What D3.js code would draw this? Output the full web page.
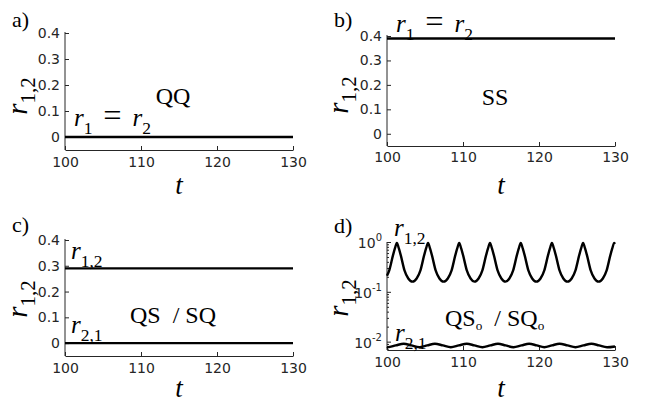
<!DOCTYPE html>
<html><head><meta charset="utf-8">
<script src="https://cdn.jsdelivr.net/npm/d3@7"></script>
<style>body{margin:0;background:#fff}</style>
</head><body><script>
// ---------- data ----------
const xTicks = [100, 110, 120, 130];
const yTicksLin = [0, 0.1, 0.2, 0.3, 0.4];
const yTicksLog = [1, 0.1, 0.01];
const yTickLogLabels = ["0", "-1", "-2"];
const yMinorLog = [0.9,0.8,0.7,0.6,0.5,0.4,0.3,0.2,0.09,0.08,0.07,0.06,0.05,0.04,0.03,0.02,0.009,0.008,0.007];
const tConst = [100, 130];
const rA = [0, 0];          // QQ: r1 = r2
const rB = [0.39, 0.39];    // SS: r1 = r2
const rC12 = [0.29, 0.29];  // QS/SQ upper
const rC21 = [0, 0];        // QS/SQ lower
const tD12 = [100.0,100.3,100.8,101.05,101.3,101.55,101.8,102.3,102.8,103.35,
  103.9,104.4,104.9,105.15,105.4,105.65,105.9,106.4,106.9,107.45,
  108.0,108.5,109.0,109.25,109.5,109.75,110.0,110.5,111.0,111.5,
  112.05,112.55,113.05,113.3,113.55,113.8,114.05,114.55,115.05,115.6,
  116.1,116.6,117.1,117.35,117.6,117.85,118.1,118.6,119.1,119.65,
  120.2,120.7,121.2,121.45,121.7,121.95,122.2,122.7,123.2,123.75,
  124.3,124.8,125.3,125.55,125.8,126.05,126.3,126.8,127.3,127.85,
  128.4,128.9,129.4,129.65,129.9,130.0];
const rD12 = [0.21,0.27,0.55,0.75,0.96,0.75,0.55,0.27,0.185,0.16,
  0.185,0.27,0.55,0.75,0.96,0.75,0.55,0.27,0.185,0.16,
  0.185,0.27,0.55,0.75,0.96,0.75,0.55,0.27,0.185,0.16,
  0.185,0.27,0.55,0.75,0.96,0.75,0.55,0.27,0.185,0.16,
  0.185,0.27,0.55,0.75,0.96,0.75,0.55,0.27,0.185,0.16,
  0.185,0.27,0.55,0.75,0.96,0.75,0.55,0.27,0.185,0.16,
  0.185,0.27,0.55,0.75,0.96,0.75,0.55,0.27,0.185,0.16,
  0.185,0.27,0.55,0.75,0.96,0.92];
const tD21 = [100.0,100.1,101.15,102.2,103.2,104.25,105.3,106.3,107.35,108.4,109.45,110.5,
  111.5,112.55,113.6,114.6,115.6,116.65,117.7,118.7,119.7,120.7,121.7,122.7,123.75,124.8,
  125.85,126.9,127.9,128.95,130.0];
const rD21 = [0.0078,0.0077,0.0084,0.0091,0.0084,0.0077,0.0084,0.0091,0.0084,0.0077,0.0084,0.0091,
  0.0084,0.0077,0.0084,0.0091,0.0084,0.0077,0.0084,0.0091,0.0084,0.0077,0.0084,0.0091,0.0084,0.0077,
  0.0084,0.0091,0.0084,0.0077,0.0080];

// ---------- setup ----------
const W = 647, H = 405;
const svg = d3.select("body").append("svg").attr("width", W).attr("height", H);
const AX = "#262626";
const SERIF = "'Liberation Serif','Times New Roman',serif";
const SANS = "'DejaVu Sans',sans-serif";

function mathText(parent, x, y, parts, size, anchor) {
  const t = parent.append("text").attr("x", x).attr("y", y)
    .attr("font-family", SERIF).attr("font-size", size).attr("fill", "#000")
    .attr("text-anchor", anchor || "start").style("white-space", "pre");
  let shift = 0;
  parts.forEach(p => {
    const want = p.sub ? size * (p.drop || 0.3) : (p.lift ? -size * p.lift : 0);
    const ts = t.append("tspan").text(p.t).attr("dy", want - shift);
    shift = want;
    ts.attr("font-size", p.sub ? size * (p.scale || 0.7) : size * (p.big || 1));
    if (p.i) ts.attr("font-style", "italic");
  });
  return t;
}

function styleAxis(g) {
  g.selectAll("path.domain").attr("stroke", AX).attr("stroke-width", 1);
  g.selectAll(".tick line").attr("stroke", AX);
  g.selectAll(".tick text").attr("fill", AX).attr("font-family", SANS).attr("font-size", 14);
}

const EQ = [{t: "r", i: 1}, {t: "1", sub: 1}, {t: "\u2004=\u2004", big: 1.3, lift: 0.02}, {t: "r", i: 1}, {t: "2", sub: 1}];

function panel(cfg) {
  const g = svg.append("g");
  const x = d3.scaleLinear().domain([100, 130]).range(cfg.xr);
  const y = cfg.log
    ? d3.scaleLog().domain([0.0068, 1]).range([cfg.yr[1], cfg.yr[0]])
    : d3.scaleLinear().domain([-0.05, 0.4]).range([cfg.yr[1], cfg.yr[0]]);

  // x axis
  const gx = g.append("g").attr("transform", `translate(0,${cfg.yr[1]})`)
    .call(d3.axisBottom(x).tickValues(xTicks).tickSizeInner(-4).tickSizeOuter(0).tickPadding(cfg.xpad));
  styleAxis(gx);

  // y axis
  if (!cfg.log) {
    const gy = g.append("g").attr("transform", `translate(${cfg.xr[0]},0)`)
      .call(d3.axisLeft(y).tickValues(yTicksLin).tickFormat(d => d === 0 ? "0" : d3.format(".1f")(d))
        .tickSizeInner(-4).tickSizeOuter(0).tickPadding(5));
    gy.select("path.domain").attr("d", `M0,${y(0.4) - 1}V${cfg.yr[1]}`);
    styleAxis(gy);
  } else {
    const gm = g.append("g").attr("transform", `translate(${cfg.xr[0]},0)`)
      .call(d3.axisLeft(y).tickValues(yMinorLog).tickFormat("").tickSizeInner(-2).tickSizeOuter(0));
    gm.select("path.domain").remove();
    styleAxis(gm);
    const gy = g.append("g").attr("transform", `translate(${cfg.xr[0]},0)`)
      .call(d3.axisLeft(y).tickValues(yTicksLog).tickFormat("").tickSizeInner(-4).tickSizeOuter(0));
    gy.select("path.domain").attr("d", `M0,${cfg.yr[0]}V${cfg.yr[1]}`);
    styleAxis(gy);
    yTicksLog.forEach((v, i) => {
      const t = g.append("text").attr("x", cfg.xr[0] - 5).attr("y", y(v) + 6)
        .attr("text-anchor", "end").attr("font-family", SANS).attr("font-size", 14).attr("fill", AX);
      t.append("tspan").text("10");
      t.append("tspan").text(yTickLogLabels[i]).attr("font-size", 10).attr("dy", -7);
    });
  }

  // lines
  const line = d3.line().x(d => x(d[0])).y(d => y(d[1]));
  cfg.series.forEach(s => {
    const data = s.t.map((tt, i) => [tt, s.r[i]]);
    g.append("path").datum(data)
      .attr("d", line.curve(s.curve || d3.curveLinear))
      .attr("fill", "none").attr("stroke", "#000").attr("stroke-width", 2.4);
  });

  // axis labels
  mathText(g, (cfg.xr[0] + cfg.xr[1]) / 2, cfg.tY, [{t: "t", i: 1}], 27, "middle");
  const yl = g.append("g").attr("transform", `translate(${cfg.rX},${cfg.rY}) rotate(-90)`);
  mathText(yl, 0, 0, [{t: "r", i: 1}, {t: "1,2", sub: 1, scale: 0.72, drop: 0.27}], 29, "middle");

  // panel letter
  g.append("text").attr("x", cfg.lx).attr("y", cfg.ly).attr("font-family", SERIF)
    .attr("font-size", 22).attr("fill", "#000").text(cfg.letter);

  cfg.notes(g);
}

panel({
  xr: [65, 293], yr: [33, 150], xpad: 7, tY: 194, rX: 27, rY: 96, lx: 12, ly: 27, letter: "a)",
  series: [{t: tConst, r: rA}],
  notes: g => {
    g.append("text").attr("x", 173).attr("y", 104).attr("text-anchor", "middle")
      .attr("font-family", SERIF).attr("font-size", 24).text("QQ");
    mathText(g, 74, 126, EQ, 25);
  }
});

panel({
  xr: [387, 615], yr: [36, 146], xpad: 6, tY: 194, rX: 348, rY: 95, lx: 334, ly: 27, letter: "b)",
  series: [{t: tConst, r: rB}],
  notes: g => {
    g.append("text").attr("x", 495).attr("y", 105).attr("text-anchor", "middle")
      .attr("font-family", SERIF).attr("font-size", 24).text("SS");
    mathText(g, 396, 32, EQ, 25);
  }
});

panel({
  xr: [65, 293], yr: [240, 356], xpad: 7, tY: 397, rX: 27, rY: 299, lx: 12, ly: 232, letter: "c)",
  series: [{t: tConst, r: rC12}, {t: tConst, r: rC21}],
  notes: g => {
    g.append("text").attr("x", 130).attr("y", 323).attr("font-family", SERIF)
      .attr("font-size", 24).style("white-space", "pre").text("QS  / SQ");
    mathText(g, 71, 259, [{t: "r", i: 1}, {t: "1,2", sub: 1}], 25);
    mathText(g, 71, 333, [{t: "r", i: 1}, {t: "2,1", sub: 1}], 25);
  }
});

panel({
  xr: [387, 615], yr: [242, 350], xpad: 7, log: true, tY: 397, rX: 348, rY: 298, lx: 334, ly: 233, letter: "d)",
  series: [{t: tD12, r: rD12, curve: d3.curveMonotoneX}, {t: tD21, r: rD21, curve: d3.curveMonotoneX}],
  notes: g => {
    mathText(g, 445, 326, [{t: "QS"}, {t: "o", sub: 1, scale: 0.55, drop: 0.15}, {t: "  / SQ"}, {t: "o", sub: 1, scale: 0.55, drop: 0.15}], 24);
    mathText(g, 394, 236, [{t: "r", i: 1}, {t: "1,2", sub: 1}], 25);
    mathText(g, 395, 341, [{t: "r", i: 1}, {t: "2,1", sub: 1}], 25);
  }
});
</script></body></html>
